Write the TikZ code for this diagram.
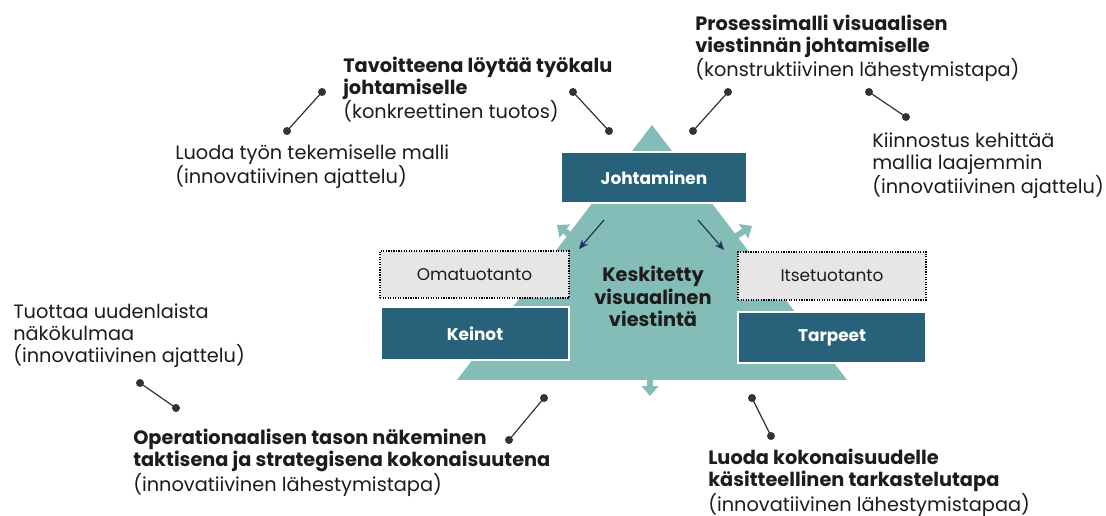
\documentclass[tikz,border=0pt]{standalone}
\usepackage{fontspec}
\setmainfont{Poppins}
\usetikzlibrary{arrows.meta}
\definecolor{pyramid}{HTML}{84BDB8}
\definecolor{boxblue}{HTML}{28617A}
\definecolor{boxgray}{HTML}{E6E6E6}
\definecolor{inkdark}{HTML}{1C1C1C}
\definecolor{navy}{HTML}{1F3361}
\definecolor{wire}{HTML}{333333}
\begin{document}
\begin{tikzpicture}[x=0.75pt,y=-0.75pt,
  darkbox/.style={draw=white, line width=0.8pt, fill=boxblue, text=white,
    font=\bfseries\fontsize{12.7}{15}\selectfont, inner sep=0pt},
  graybox/.style={draw=black, densely dotted, line width=0.9pt, fill=boxgray,
    text=inkdark, font=\fontsize{12.7}{15}\selectfont, inner sep=0pt},
  note/.style={anchor=base west, align=left, inner sep=0pt, text=inkdark,
    font=\fontsize{14.5}{16.6}\selectfont},
  outarrow/.style={pyramid, line width=4.5pt,
    -{Triangle[width=12.5pt, length=7.5pt]}},
  inarrow/.style={navy, line width=0.9pt, -{Stealth[width=6pt, length=7pt]}},
  wireline/.style={wire, line width=0.9pt},
  dot/.style={fill=wire}]
\useasboundingbox (0,0) rectangle (1106,516);
\fill[white] (0,0) rectangle (1106,516);

% pyramid and its outward arrows
\draw[outarrow] (576,240) -- (557,225);
\draw[outarrow] (730,240) -- (752,226);
\draw[outarrow] (650,372) -- (650,396);
\fill[pyramid] (652,125) -- (847,380) -- (457,380) -- cycle;

% boxes
\node[darkbox, minimum width=139.5pt, minimum height=38.25pt] (lead) at (654,177.5) {Johtaminen};
\node[graybox, minimum width=141.75pt, minimum height=35.25pt] (own) at (474.5,274.5) {Omatuotanto};
\node[darkbox, minimum width=141pt, minimum height=39.75pt] (means) at (475,333.5) {Keinot};
\node[graybox, minimum width=141pt, minimum height=36pt] (self) at (832,276) {Itsetuotanto};
\node[darkbox, minimum width=141pt, minimum height=38.25pt] (needs) at (832,337.5) {Tarpeet};

% centre label (anchored at the baseline of its last line)
\node[align=center, inner sep=0pt, text=inkdark, anchor=base,
  font=\bfseries\fontsize{14.5}{16.9}\selectfont] (core) at (653,327)
  {Keskitetty\\visuaalinen\\viestintä};

% arrows from the leadership box
\coordinate (la1) at (604,220);
\coordinate (la2) at (579,249);
\coordinate (ra1) at (698,220);
\coordinate (ra2) at (724,250);
\draw[inarrow] (la1) -- (la2);
\draw[inarrow] (ra1) -- (ra2);

% notes (each anchored at the baseline of its last line)
\node[note] (n1) at (343,119) {\textbf{Tavoitteena löytää työkalu}\\\textbf{johtamiselle}\\(konkreettinen tuotos)};
\node[note] (n2) at (695,77) {\textbf{Prosessimalli visuaalisen}\\\textbf{viestinnän johtamiselle}\\(konstruktiivinen lähestymistapa)};
\node[note] (n3) at (175,184) {Luoda työn tekemiselle malli\\(innovatiivinen ajattelu)};
\node[note] (n4) at (872,194) {Kiinnostus kehittää\\mallia laajemmin\\(innovatiivinen ajattelu)};
\node[note] (n5) at (13,363) {Tuottaa uudenlaista\\näkökulmaa\\(innovatiivinen ajattelu)};
\node[note] (n6) at (133,491) {\textbf{Operationaalisen tason näkeminen}\\\textbf{taktisena ja strategisena kokonaisuutena}\\(innovatiivinen lähestymistapa)};
\node[note] (n7) at (708,511) {\textbf{Luoda kokonaisuudelle}\\\textbf{käsitteellinen tarkastelutapa}\\(innovatiivinen lähestymistapaa)};

% leader connectors with round ends
\coordinate (a1) at (322,92);  \coordinate (a2) at (287,131);
\coordinate (b1) at (573,92);  \coordinate (b2) at (609,131);
\coordinate (c1) at (728,92);  \coordinate (c2) at (693,131);
\coordinate (d1) at (869,92);  \coordinate (d2) at (906,117);
\coordinate (e1) at (140,383); \coordinate (e2) at (176,408);
\coordinate (f1) at (544,398); \coordinate (f2) at (509,440);
\coordinate (g1) at (752,398); \coordinate (g2) at (771,436);
\foreach \p/\q in {a1/a2,b1/b2,c1/c2,d1/d2,e1/e2,f1/f2,g1/g2}{
  \draw[wireline] (\p) -- (\q);
  \fill[dot] (\p) circle[radius=3pt];
  \fill[dot] (\q) circle[radius=3pt];
}
\end{tikzpicture}
\end{document}
